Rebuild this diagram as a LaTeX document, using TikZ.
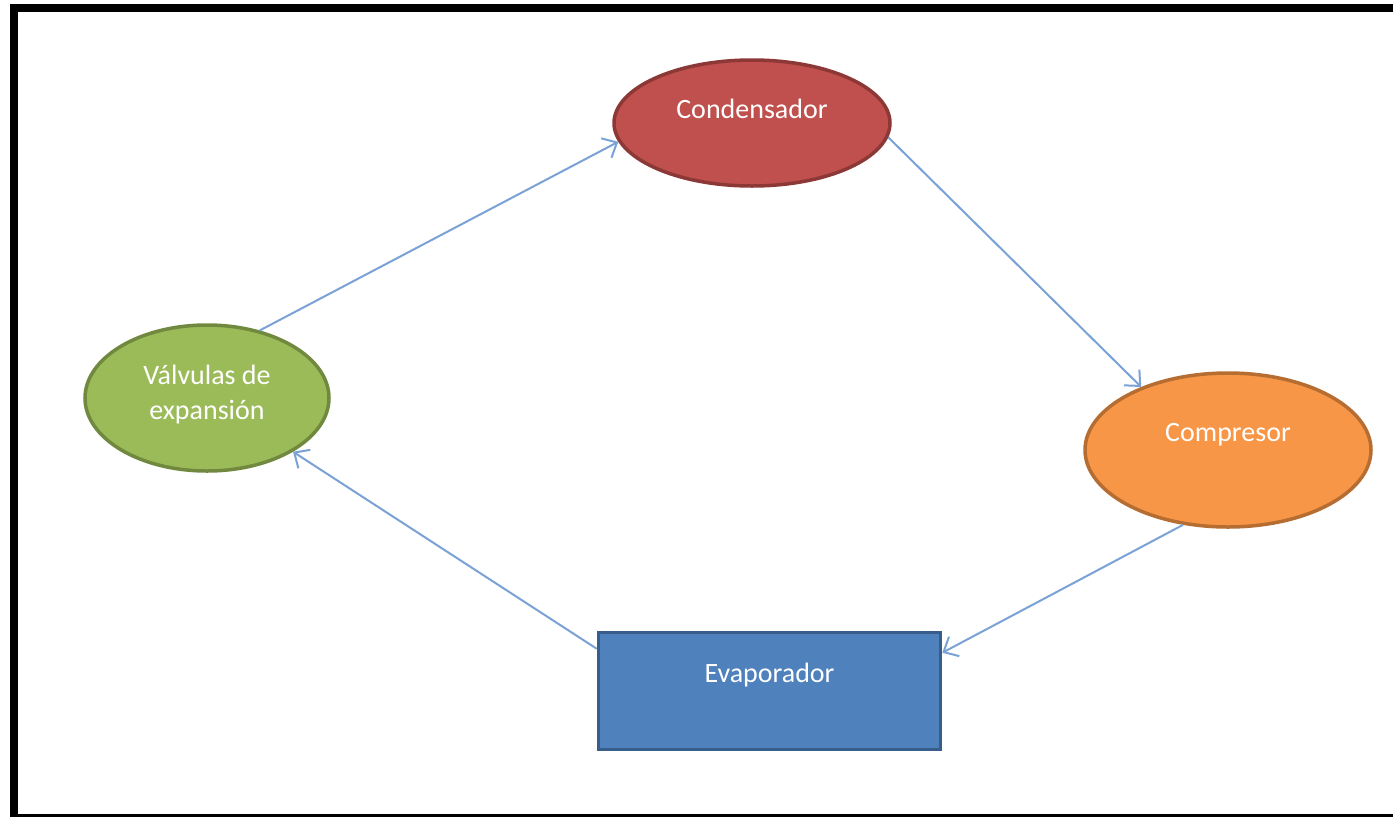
\documentclass[tikz,border=0pt]{standalone}
\usepackage{fontspec}
\setmainfont{Carlito}
\usetikzlibrary{arrows.meta,shapes.geometric,calc}
\definecolor{redfill}{HTML}{C0504D}
\definecolor{redline}{HTML}{8C3836}
\definecolor{greenfill}{HTML}{9BBB59}
\definecolor{greenline}{HTML}{71893F}
\definecolor{orangefill}{HTML}{F79646}
\definecolor{orangeline}{HTML}{B66D31}
\definecolor{bluefill}{HTML}{4F81BD}
\definecolor{blueline}{HTML}{385D8A}
\definecolor{arrowblue}{HTML}{7AA2D6}
\newcommand{\up}[2]{\raisebox{#1}[\height][\depth]{#2}}
\begin{document}
\begin{tikzpicture}[x=1pt,y=-1pt,
  lbl/.style={text=white,font=\fontsize{28}{35}\selectfont,align=center,inner sep=0pt},
  oval/.style={ellipse,lbl,line width=3.5pt},
  flow/.style={draw=arrowblue,line width=2pt,-{Straight Barb[length=12pt,width=22pt,line width=2pt]}}]
\useasboundingbox (0,0) rectangle (1393,817);
\fill[white] (0,0) rectangle (1393,817);
% frame
\fill[black] (10,4) rectangle (1393,12);
\fill[black] (10,4) rectangle (18,817);
\fill[black] (10,814) rectangle (1393,817);
% nodes
\node[oval,fill=redfill,draw=redline,minimum width=276pt,minimum height=126pt] (cond) at (752,123) {\up{14pt}{Condensador}};
\node[oval,fill=greenfill,draw=greenline,minimum width=244pt,minimum height=146pt] (valv) at (207,398) {\up{3pt}{Válvulas de}\\\up{3pt}{expansión}};
\node[oval,fill=orangefill,draw=orangeline,minimum width=286pt,minimum height=154pt] (comp) at (1228,450) {\up{15pt}{Compresor}};
\node[lbl,rectangle,fill=bluefill,draw=blueline,line width=3.5pt,minimum width=342pt,minimum height=117pt] (evap) at (769.5,691) {\up{16pt}{Evaporador}};
% connectors
\coordinate (evapin) at ($(evap.north east)+(0,22)$);
\coordinate (evapout) at ($(evap.north west)+(0,18)$);
\draw[flow] (valv.52) -- (cond.188);
\draw[flow] (cond.354) -- (comp.144);
\draw[flow] (comp.239) -- (evapin);
\draw[flow] (evapout) -- (valv.-32);
\end{tikzpicture}
\end{document}
